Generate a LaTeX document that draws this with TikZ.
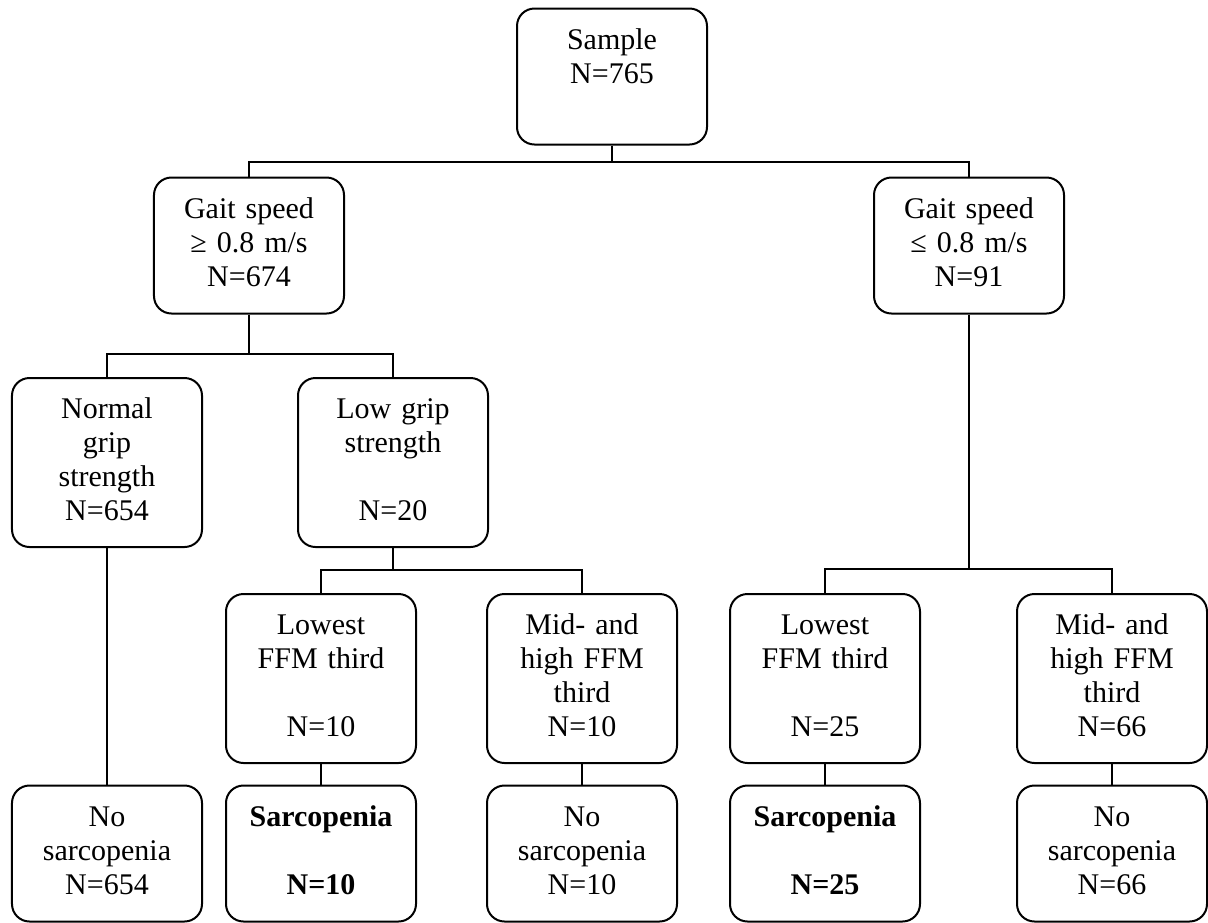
\documentclass[tikz,border=0pt]{standalone}
\usepackage{fontspec}
\setmainfont{Liberation Serif}
\tikzset{
    box/.style={draw, line width=0.8pt, rounded corners=7pt, align=center,
        text width=72pt, minimum width=76pt, inner sep=0pt,
        font=\fontsize{12}{13.6}\selectfont,
        execute at begin node=\strut, execute at end node=\strut},
    short/.style={box, minimum height=54.4pt},
    tall/.style={box, minimum height=67.6pt}
}
\begin{document}
\begin{tikzpicture}[x=0.4pt, y=-0.4pt, line width=0.8pt]
        \useasboundingbox (0, 0) rectangle (1208, 922);

        \node[short] (S)  at (612, 76.5)   {Sample\\N=765\\~};
        \node[short] (G1) at (249, 245.5)  {Gait speed\\≥ 0.8 m/s\\N=674};
        \node[short] (G2) at (969, 245.5)  {Gait speed\\≤ 0.8 m/s\\N=91};
        \node[tall]  (R1) at (107, 462.5)  {Normal\\grip\\strength\\N=654};
        \node[tall]  (R2) at (393, 462.5)  {Low grip\\strength\\~\\N=20};
        \node[tall]  (F1) at (321, 678.5)  {Lowest\\FFM third\\~\\N=10};
        \node[tall]  (F2) at (582, 678.5)  {Mid- and\\high FFM\\third\\N=10};
        \node[tall]  (F3) at (825, 678.5)  {Lowest\\FFM third\\~\\N=25};
        \node[tall]  (F4) at (1112, 678.5) {Mid- and\\high FFM\\third\\N=66};
        \node[short] (O1) at (107, 853.5)  {No\\sarcopenia\\N=654};
        \node[short] (O2) at (321, 853.5)  {\textbf{Sarcopenia}\\~\\\textbf{N=10}};
        \node[short] (O3) at (582, 853.5)  {No\\sarcopenia\\N=10};
        \node[short] (O4) at (825, 853.5)  {\textbf{Sarcopenia}\\~\\\textbf{N=25}};
        \node[short] (O5) at (1112, 853.5) {No\\sarcopenia\\N=66};

        \coordinate (J0) at (612, 162);
        \coordinate (J1) at (249, 354);
        \coordinate (J2) at (393, 570);
        \coordinate (J3) at (969, 569);

        \draw (S) -- (J0);
        \draw (G1.north) |- (J0) -| (G2.north);
        \draw (G1) -- (J1);
        \draw (R1.north) |- (J1) -| (R2.north);
        \draw (R2) -- (J2);
        \draw (F1.north) |- (J2) -| (F2.north);
        \draw (G2) -- (J3);
        \draw (F3.north) |- (J3) -| (F4.north);

        \path
            (R1) edge (O1)
            (F1) edge (O2)
            (F2) edge (O3)
            (F3) edge (O4)
            (F4) edge (O5);
\end{tikzpicture}
\end{document}
